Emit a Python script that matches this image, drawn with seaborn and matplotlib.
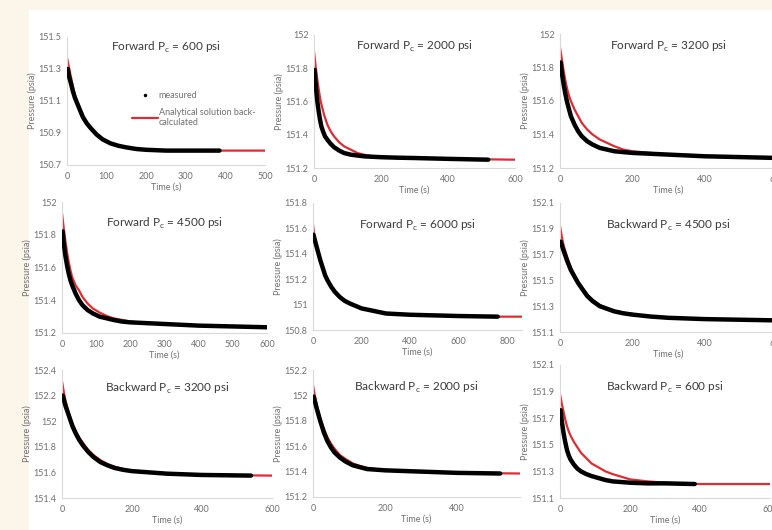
import matplotlib
matplotlib.use("Agg")
import matplotlib.pyplot as plt
from matplotlib.lines import Line2D
from matplotlib.patches import Rectangle
from matplotlib.ticker import FuncFormatter
import seaborn as sns

# titles of the 9 panels (row by row)
titles = [
    "Forward P$_\\mathregular{c}$ = 600 psi",
    "Forward P$_\\mathregular{c}$ = 2000 psi",
    "Forward P$_\\mathregular{c}$ = 3200 psi",
    "Forward P$_\\mathregular{c}$ = 4500 psi",
    "Forward P$_\\mathregular{c}$ = 6000 psi",
    "Backward P$_\\mathregular{c}$ = 4500 psi",
    "Backward P$_\\mathregular{c}$ = 3200 psi",
    "Backward P$_\\mathregular{c}$ = 2000 psi",
    "Backward P$_\\mathregular{c}$ = 600 psi",
]

# measured pressure (psia) vs time (s)
fwd600_t = [2, 5, 10, 15, 20, 25, 30, 40, 50, 60, 75, 90, 110, 130, 150, 175, 200, 250, 300, 385]
fwd600_meas = [151.30, 151.255, 151.21, 151.16, 151.12, 151.09, 151.06, 151.00, 150.96, 150.93, 150.89, 150.86,
               150.835, 150.82, 150.81, 150.80, 150.795, 150.79, 150.79, 150.79]
fwd2000_t = [2, 4, 7, 10, 14, 18, 22, 27, 33, 40, 50, 60, 75, 90, 110, 130, 150, 200, 250, 300, 400, 520]
fwd2000_meas = [151.79, 151.73, 151.66, 151.60, 151.54, 151.49, 151.45, 151.42, 151.39, 151.37, 151.345, 151.325,
                151.305, 151.29, 151.28, 151.275, 151.27, 151.265, 151.262, 151.26, 151.255, 151.25]
fwd3200_t = [2, 5, 10, 15, 20, 25, 30, 40, 50, 60, 75, 90, 110, 130, 150, 175, 200, 250, 300, 400, 500, 600]
fwd3200_meas = [151.83, 151.77, 151.70, 151.64, 151.59, 151.55, 151.51, 151.46, 151.42, 151.39, 151.36, 151.34,
                151.32, 151.31, 151.30, 151.295, 151.29, 151.285, 151.28, 151.27, 151.265, 151.26]
fwd4500_t = [2, 5, 10, 15, 20, 25, 30, 40, 50, 60, 75, 90, 110, 130, 150, 175, 200, 250, 300, 400, 500, 600]
fwd4500_meas = [151.82, 151.75, 151.67, 151.61, 151.56, 151.52, 151.49, 151.44, 151.40, 151.37, 151.34, 151.32,
                151.30, 151.29, 151.28, 151.27, 151.265, 151.26, 151.255, 151.245, 151.24, 151.235]
fwd6000_t = [2, 10, 20, 30, 40, 50, 60, 75, 90, 110, 130, 150, 175, 200, 250, 300, 400, 500, 600, 760]
fwd6000_meas = [151.55, 151.49, 151.42, 151.35, 151.29, 151.23, 151.19, 151.14, 151.10, 151.06, 151.03, 151.01,
                150.99, 150.97, 150.95, 150.93, 150.92, 150.915, 150.91, 150.905]
bwd4500_t = [2, 10, 20, 30, 40, 50, 60, 75, 90, 110, 130, 150, 175, 200, 250, 300, 400, 500, 600]
bwd4500_meas = [151.80, 151.73, 151.65, 151.58, 151.53, 151.48, 151.44, 151.38, 151.34, 151.30, 151.28, 151.26,
                151.245, 151.235, 151.22, 151.21, 151.20, 151.195, 151.19]
bwd3200_t = [2, 10, 20, 30, 40, 50, 60, 75, 90, 110, 130, 150, 175, 200, 250, 300, 400, 540]
bwd3200_meas = [152.20, 152.12, 152.04, 151.96, 151.90, 151.85, 151.81, 151.76, 151.72, 151.68, 151.655, 151.635,
                151.62, 151.61, 151.60, 151.59, 151.58, 151.575]
bwd2000_t = [2, 10, 20, 30, 40, 50, 60, 75, 90, 110, 130, 150, 175, 200, 250, 300, 400, 520]
bwd2000_meas = [151.99, 151.90, 151.80, 151.71, 151.64, 151.59, 151.55, 151.51, 151.48, 151.45, 151.435, 151.42,
                151.415, 151.41, 151.405, 151.40, 151.39, 151.385]
bwd600_t = [2, 5, 10, 15, 20, 25, 30, 40, 50, 60, 75, 90, 110, 130, 150, 175, 200, 250, 300, 385]
bwd600_meas = [151.76, 151.68, 151.59, 151.52, 151.46, 151.42, 151.39, 151.35, 151.32, 151.30, 151.28, 151.265,
               151.25, 151.235, 151.225, 151.22, 151.215, 151.21, 151.21, 151.205]

# analytical solution back-calculated
fwd600_mt = [0, 5, 10, 15, 20, 25, 30, 40, 50, 60, 75, 90, 110, 130, 150, 175, 200, 300, 400, 500]
fwd600_model = [151.37, 151.31, 151.25, 151.19, 151.14, 151.10, 151.07, 151.01, 150.96, 150.93, 150.89, 150.86,
                150.835, 150.82, 150.81, 150.80, 150.795, 150.79, 150.79, 150.79]
fwd2000_mt = [0, 5, 10, 15, 20, 30, 40, 50, 60, 75, 90, 110, 130, 150, 175, 200, 250, 300, 400, 600]
fwd2000_model = [151.90, 151.81, 151.73, 151.66, 151.60, 151.52, 151.46, 151.42, 151.39, 151.355, 151.33, 151.31,
                 151.29, 151.28, 151.27, 151.265, 151.26, 151.26, 151.255, 151.25]
fwd3200_mt = [0, 5, 10, 15, 20, 25, 30, 40, 50, 60, 75, 90, 110, 130, 150, 175, 200, 250, 300, 400, 600]
fwd3200_model = [151.92, 151.85, 151.78, 151.72, 151.67, 151.63, 151.60, 151.55, 151.51, 151.47, 151.43, 151.40,
                 151.37, 151.35, 151.33, 151.31, 151.30, 151.29, 151.28, 151.27, 151.26]
fwd4500_mt = [0, 5, 10, 15, 20, 25, 30, 40, 50, 60, 75, 90, 110, 130, 150, 175, 200, 250, 300, 400, 600]
fwd4500_model = [151.93, 151.84, 151.76, 151.69, 151.63, 151.58, 151.54, 151.49, 151.46, 151.42, 151.38, 151.35,
                 151.325, 151.305, 151.29, 151.28, 151.27, 151.26, 151.255, 151.245, 151.235]
fwd6000_mt = [0, 5, 10, 20, 30, 40, 50, 60, 75, 90, 110, 130, 150, 175, 200, 250, 300, 400, 500, 600, 760, 860]
fwd6000_model = [151.63, 151.55, 151.49, 151.42, 151.35, 151.29, 151.23, 151.19, 151.14, 151.10, 151.06, 151.03,
                 151.01, 150.99, 150.97, 150.95, 150.93, 150.92, 150.915, 150.91, 150.905, 150.905]
bwd4500_mt = [0, 5, 10, 20, 30, 40, 50, 60, 75, 90, 110, 130, 150, 175, 200, 250, 300, 400, 600]
bwd4500_model = [151.92, 151.84, 151.77, 151.68, 151.60, 151.54, 151.49, 151.45, 151.39, 151.35, 151.31, 151.285,
                 151.265, 151.25, 151.24, 151.22, 151.21, 151.20, 151.19]
bwd3200_mt = [0, 5, 10, 20, 30, 40, 50, 60, 75, 90, 110, 130, 150, 175, 200, 250, 300, 400, 600]
bwd3200_model = [152.31, 152.23, 152.16, 152.06, 151.98, 151.92, 151.87, 151.83, 151.775, 151.735, 151.695, 151.665,
                 151.645, 151.625, 151.61, 151.60, 151.59, 151.58, 151.575]
bwd2000_mt = [0, 5, 10, 20, 30, 40, 50, 60, 75, 90, 110, 130, 150, 175, 200, 250, 300, 400, 575]
bwd2000_model = [152.08, 152.00, 151.93, 151.82, 151.74, 151.67, 151.62, 151.58, 151.53, 151.50, 151.465, 151.445,
                 151.43, 151.42, 151.41, 151.405, 151.40, 151.39, 151.385]
bwd600_mt = [0, 5, 10, 15, 20, 25, 30, 40, 50, 60, 75, 90, 110, 130, 150, 175, 200, 250, 300, 400, 600]
bwd600_model = [151.88, 151.81, 151.75, 151.69, 151.64, 151.60, 151.57, 151.52, 151.48, 151.44, 151.40, 151.36,
                151.33, 151.30, 151.28, 151.26, 151.24, 151.225, 151.215, 151.205, 151.205]

measured = [(fwd600_t, fwd600_meas), (fwd2000_t, fwd2000_meas), (fwd3200_t, fwd3200_meas),
            (fwd4500_t, fwd4500_meas), (fwd6000_t, fwd6000_meas), (bwd4500_t, bwd4500_meas),
            (bwd3200_t, bwd3200_meas), (bwd2000_t, bwd2000_meas), (bwd600_t, bwd600_meas)]
analytical = [(fwd600_mt, fwd600_model), (fwd2000_mt, fwd2000_model), (fwd3200_mt, fwd3200_model),
              (fwd4500_mt, fwd4500_model), (fwd6000_mt, fwd6000_model), (bwd4500_mt, bwd4500_model),
              (bwd3200_mt, bwd3200_model), (bwd2000_mt, bwd2000_model), (bwd600_mt, bwd600_model)]

# axis ranges per panel: (x max, x tick step, y min, y max)
ranges = [(500, 100, 150.7, 151.5), (600, 200, 151.2, 152.0), (600, 200, 151.2, 152.0),
          (600, 100, 151.2, 152.0), (860, 200, 150.8, 151.8), (600, 200, 151.1, 152.1),
          (600, 200, 151.4, 152.4), (575, 200, 151.2, 152.2), (600, 200, 151.1, 152.1)]

# pixel boxes of the plot areas: (left, right, top, bottom, title y)
boxes = [(67, 265, 37, 165, 47), (314, 515, 35, 168, 46), (560, 777, 34, 168, 46),
         (62, 267, 202, 333, 223), (313, 522, 203, 330, 225), (560, 777, 203, 332, 225),
         (62, 272, 370, 498, 388), (313, 520, 370, 497, 387), (560, 770, 365, 498, 387)]

W, H = 772, 530
CREAM = "#FCF5E9"
RED = "#E02B33"
GRAY = "#707070"

sns.set_theme(style="white")
plt.rcParams['font.family'] = ['Lato', 'DejaVu Sans']

fig = plt.figure(figsize=(W / 100, H / 100), dpi=100, facecolor=CREAM)
fig.patches.append(Rectangle((29 / W, 0), 1, 1 - 10 / H, transform=fig.transFigure,
                             facecolor="white", edgecolor="none", zorder=-5))

fmt = FuncFormatter(lambda v, p: f"{v:g}")

for i in range(9):
    x0, x1, yt, yb, ty = boxes[i]
    xmax, xstep, ylo, yhi = ranges[i]
    w, h = x1 - x0, yb - yt
    ax = fig.add_axes([x0 / W, 1 - yb / H, w / W, h / H])
    ax.set_facecolor("none")
    ax.set_zorder(2)

    mt, mp = analytical[i]
    st, sp = measured[i]
    sns.lineplot(x=mt, y=mp, ax=ax, color=RED, lw=1.6, zorder=2, solid_joinstyle="round")
    sns.lineplot(x=st, y=sp, ax=ax, color="black", lw=3.2, zorder=3, solid_joinstyle="round")

    ax.set_xlim(0, xmax)
    ax.set_ylim(ylo, yhi)
    ax.set_xticks([k * xstep for k in range(int(xmax // xstep) + 1)])
    ax.set_yticks([ylo + k * 0.2 for k in range(int(round((yhi - ylo) / 0.2)) + 1)])
    ax.yaxis.set_major_formatter(fmt)
    ax.tick_params(length=0, labelsize=6.5, labelcolor=GRAY)
    ax.tick_params(axis="y", pad=4)
    ax.tick_params(axis="x", pad=5)
    sns.despine(ax=ax)
    for s in ["left", "bottom"]:
        ax.spines[s].set_color("#D9D9D9")
        ax.spines[s].set_linewidth(0.8)

    ax.set_ylabel("Pressure (psia)", fontsize=6.5, color=GRAY)
    ax.yaxis.set_label_coords(-30 / w, 0.5)
    ax.set_xlabel("Time (s)", fontsize=6.5, color=GRAY)
    ax.xaxis.set_label_coords(0.5, -18 / h)

    fig.text((x0 + x1) / 2 / W, 1 - ty / H, titles[i], fontsize=8.5, color="#3A3A3A",
             ha="center", va="center", zorder=3)

    if i == 0:
        handles = [Line2D([], [], marker=".", ls="none", color="black", markersize=3),
                   Line2D([], [], color=RED, lw=1.6)]
        ax.legend(handles, ["measured", "Analytical solution back-\ncalculated"],
                  loc="upper left", bbox_to_anchor=(0.33, 0.58), frameon=False,
                  fontsize=6.5, labelcolor=GRAY, handlelength=2.8, handletextpad=0.1,
                  borderpad=0, borderaxespad=0, labelspacing=0.9)

fig.savefig("out.png", dpi=100, facecolor=CREAM)
